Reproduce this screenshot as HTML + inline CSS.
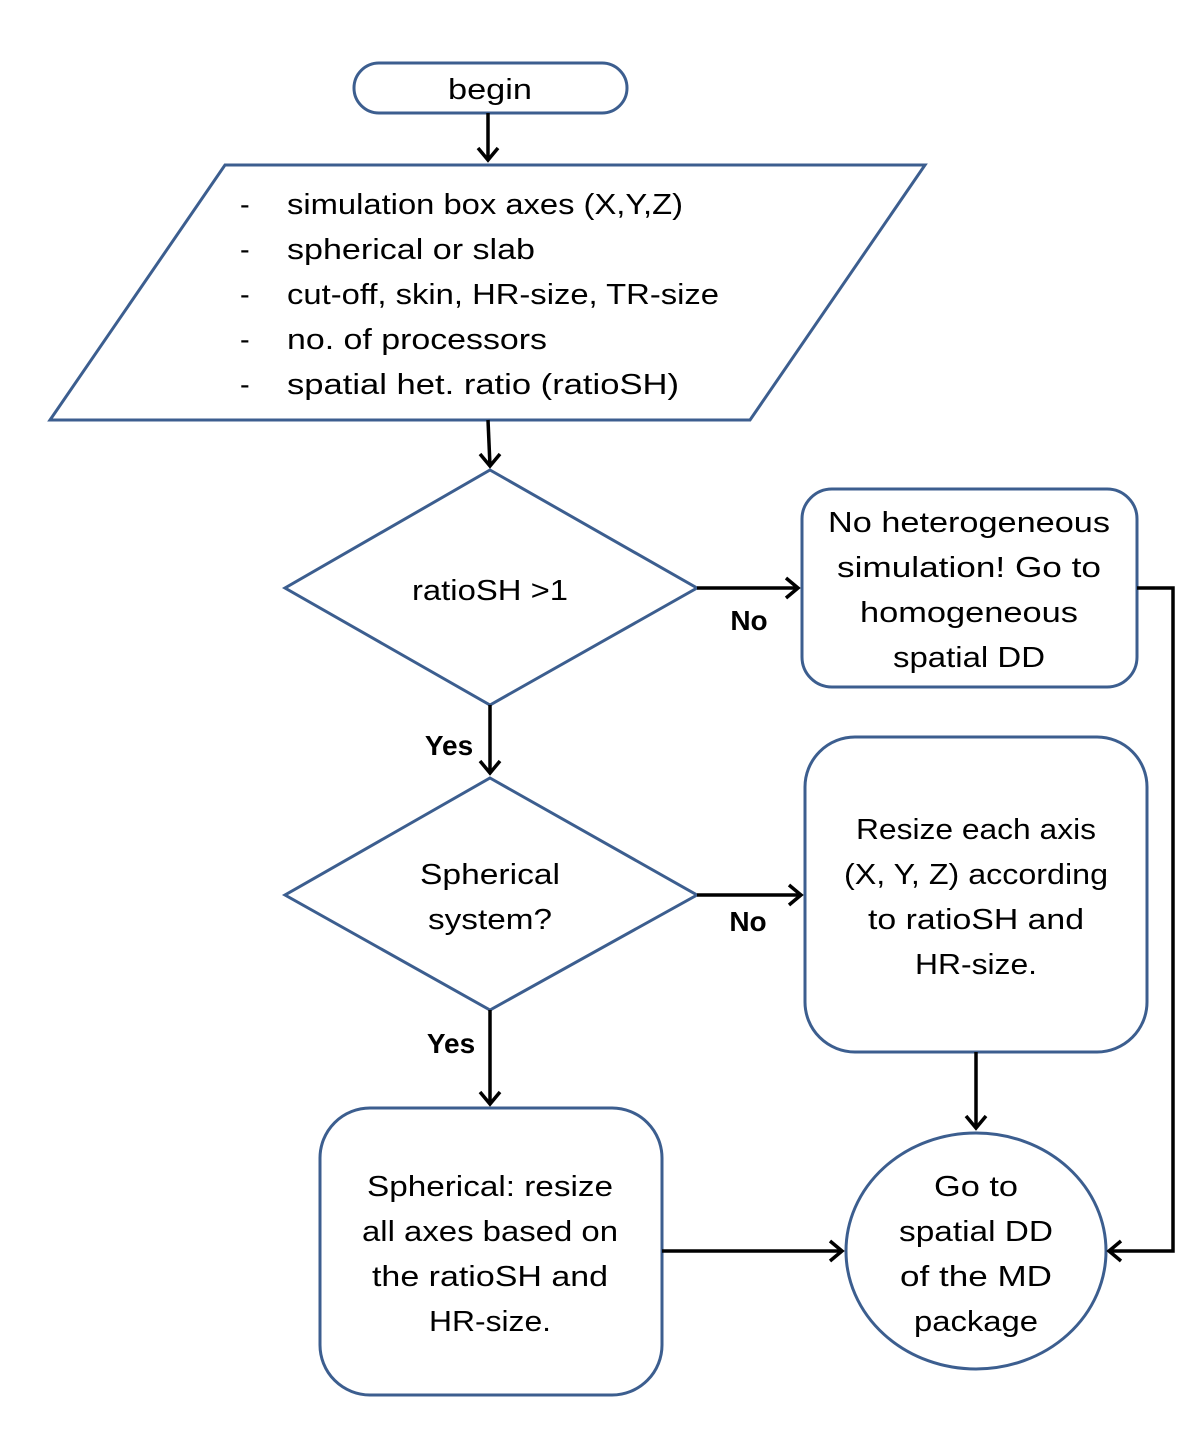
<!DOCTYPE html>
<html><head><meta charset="utf-8"><style>
html,body{margin:0;padding:0;background:#fff}
svg{display:block}
text{font-family:"Liberation Sans",sans-serif;font-size:29px;fill:#000}
.b{font-weight:bold;font-size:28px}
</style></head><body>
<svg width="1200" height="1451" viewBox="0 0 1200 1451" xmlns="http://www.w3.org/2000/svg">
<g fill="#fff" stroke="#3c5e8f" stroke-width="3">
<rect x="354" y="63" width="273" height="50" rx="25"/>
<polygon points="225,165 925,165 750,420 50,420"/>
<polygon points="490,470 697,588 490,705 285,588"/>
<rect x="802" y="489" width="335" height="198" rx="30"/>
<polygon points="490,778 697,895 490,1010 285,895"/>
<rect x="805" y="737" width="342" height="315" rx="50"/>
<ellipse cx="976" cy="1251" rx="130" ry="118"/>
<rect x="320" y="1108" width="342" height="287" rx="50"/>
</g>
<g stroke="#000" stroke-width="3.5" fill="none">
<path d="M488 113V160"/><path d="M478 148l10 12 10-12"/>
<path d="M488 420L490 466"/><path d="M480 454l10 12 10-12"/>
<path d="M697 588H798"/><path d="M786 578l12 10-12 10"/>
<path d="M1137 588H1173V1251H1109"/><path d="M1121 1241l-12 10 12 10"/>
<path d="M490 705V773"/><path d="M480 761l10 12 10-12"/>
<path d="M697 895H801"/><path d="M789 885l12 10-12 10"/>
<path d="M976 1052V1128"/><path d="M966 1116l10 12 10-12"/>
<path d="M490 1010V1104"/><path d="M480 1092l10 12 10-12"/>
<path d="M662 1251H842"/><path d="M830 1241l12 10-12 10"/>
</g>
<text x="490" y="99" text-anchor="middle" textLength="84" lengthAdjust="spacingAndGlyphs">begin</text>
<g>
<text x="240" y="214">-</text><text x="287" y="214" textLength="396" lengthAdjust="spacingAndGlyphs">simulation box axes (X,Y,Z)</text>
<text x="240" y="259">-</text><text x="287" y="259" textLength="248" lengthAdjust="spacingAndGlyphs">spherical or slab</text>
<text x="240" y="304">-</text><text x="287" y="304" textLength="432" lengthAdjust="spacingAndGlyphs">cut-off, skin, HR-size, TR-size</text>
<text x="240" y="349">-</text><text x="287" y="349" textLength="260" lengthAdjust="spacingAndGlyphs">no. of processors</text>
<text x="240" y="394">-</text><text x="287" y="394" textLength="392" lengthAdjust="spacingAndGlyphs">spatial het. ratio (ratioSH)</text>
</g>
<text x="490" y="600" text-anchor="middle" textLength="156" lengthAdjust="spacingAndGlyphs">ratioSH &gt;1</text>
<text class="b" x="749" y="630" text-anchor="middle">No</text>
<text x="969" y="532" text-anchor="middle" textLength="282" lengthAdjust="spacingAndGlyphs">No heterogeneous</text>
<text x="969" y="577" text-anchor="middle" textLength="264" lengthAdjust="spacingAndGlyphs">simulation! Go to</text>
<text x="969" y="622" text-anchor="middle" textLength="218" lengthAdjust="spacingAndGlyphs">homogeneous</text>
<text x="969" y="667" text-anchor="middle" textLength="152" lengthAdjust="spacingAndGlyphs">spatial DD</text>
<text class="b" x="449" y="755" text-anchor="middle">Yes</text>
<text x="490" y="884" text-anchor="middle" textLength="140" lengthAdjust="spacingAndGlyphs">Spherical</text>
<text x="490" y="929" text-anchor="middle" textLength="124" lengthAdjust="spacingAndGlyphs">system?</text>
<text class="b" x="748" y="931" text-anchor="middle">No</text>
<text x="976" y="839" text-anchor="middle" textLength="240" lengthAdjust="spacingAndGlyphs">Resize each axis</text>
<text x="976" y="884" text-anchor="middle" textLength="264" lengthAdjust="spacingAndGlyphs">(X, Y, Z) according</text>
<text x="976" y="929" text-anchor="middle" textLength="216" lengthAdjust="spacingAndGlyphs">to ratioSH and</text>
<text x="976" y="974" text-anchor="middle" textLength="122" lengthAdjust="spacingAndGlyphs">HR-size.</text>
<text class="b" x="451" y="1053" text-anchor="middle">Yes</text>
<text x="490" y="1196" text-anchor="middle" textLength="246" lengthAdjust="spacingAndGlyphs">Spherical: resize</text>
<text x="490" y="1241" text-anchor="middle" textLength="256" lengthAdjust="spacingAndGlyphs">all axes based on</text>
<text x="490" y="1286" text-anchor="middle" textLength="236" lengthAdjust="spacingAndGlyphs">the ratioSH and</text>
<text x="490" y="1331" text-anchor="middle" textLength="122" lengthAdjust="spacingAndGlyphs">HR-size.</text>
<text x="976" y="1196" text-anchor="middle" textLength="84" lengthAdjust="spacingAndGlyphs">Go to</text>
<text x="976" y="1241" text-anchor="middle" textLength="154" lengthAdjust="spacingAndGlyphs">spatial DD</text>
<text x="976" y="1286" text-anchor="middle" textLength="152" lengthAdjust="spacingAndGlyphs">of the MD</text>
<text x="976" y="1331" text-anchor="middle" textLength="124" lengthAdjust="spacingAndGlyphs">package</text>
</svg>
</body></html>
